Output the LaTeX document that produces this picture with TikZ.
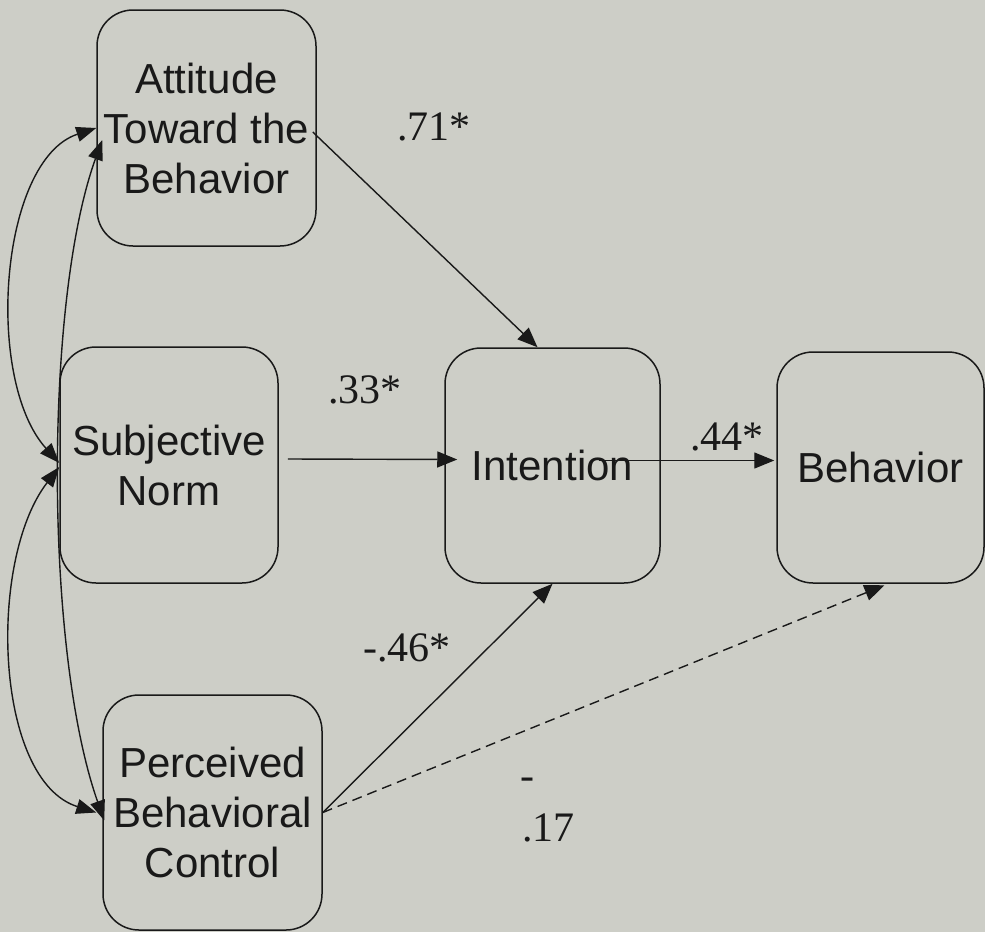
\documentclass[tikz,border=0pt]{standalone}
\usepackage{fontspec}
\setmainfont{Liberation Serif}
\newfontfamily\boxfont{Liberation Sans}
\usetikzlibrary{arrows.meta}
\definecolor{bgcol}{RGB}{205,206,199}
\definecolor{ink}{RGB}{25,25,25}
\tikzset{
  varbox/.style={draw=ink, line width=1.5pt, rounded corners=36pt, align=center,
    font=\boxfont\fontsize{42}{50}\selectfont, text=ink, inner sep=0pt},
  coef/.style={font=\fontsize{42}{50}\selectfont, text=ink, anchor=base west, inner sep=0pt},
  path/.style={draw=ink, line width=1.4pt, -{Triangle[length=20pt,width=16pt]}},
  corr/.style={draw=ink, line width=1.4pt, {Triangle[length=20pt,width=15pt]}-{Triangle[length=20pt,width=15pt]}},
  dashpath/.style={path, dash pattern=on 10pt off 6pt}
}
\begin{document}
\begin{tikzpicture}[x=1pt,y=-1pt]
\useasboundingbox (0,0) rectangle (985,932);
\fill[bgcol] (0,0) rectangle (985,932);
% variables
\node[varbox, minimum width=219pt, minimum height=236pt] (att) at (206.5,128) {Attitude\\Toward the\\Behavior};
\node[varbox, minimum width=218pt, minimum height=236pt] (sn) at (169,465) {Subjective\\Norm};
\node[varbox, minimum width=219pt, minimum height=235pt] (pbc) at (212.5,812.5) {Perceived\\Behavioral\\Control};
\node[varbox, minimum width=215pt, minimum height=235pt] (int) at (552.5,465.5) {Intention};
\node[varbox, minimum width=207pt, minimum height=231pt] (beh) at (880.5,467.5) {Behavior};
% directed paths
\draw[path] ([xshift=-4pt,yshift=-4pt]att.east) -- ([xshift=-15pt]int.north);
\draw[path] ([xshift=9pt,yshift=6pt]sn.east) -- ([xshift=13pt,yshift=6pt]int.west);
\draw[path] ([xshift=46pt,yshift=5pt]int.center) -- ([xshift=-2pt,yshift=7pt]beh.west);
\draw[path] (pbc.east) -- (int.south);
\draw[dashpath] (pbc.east) -- ([xshift=4pt,yshift=-1.5pt]beh.south);
% correlations
\draw[corr] (att.west) .. controls +(-97,32) and +(-75,-83) .. ([yshift=2pt]sn.west);
\draw[corr] ([yshift=-2pt]sn.west) .. controls +(-72,93) and +(-102,-32) .. ([xshift=-6pt]pbc.west);
\draw[corr] ([xshift=6pt,yshift=-12pt]att.west) .. controls +(-58,160) and +(-60,-170) .. ([xshift=2pt,yshift=-8pt]pbc.west);
% coefficients
\node[coef] (c71) at (397,140) {.71*};
\node[coef] (c33) at (328,403) {.33*};
\node[coef] (c44) at (690,450) {.44*};
\node[coef] (c46) at (363,661) {-.46*};
\node[coef] (c17a) at (520,789) {-};
\node[coef] (c17b) at (522,841) {.17};
\end{tikzpicture}
\end{document}
